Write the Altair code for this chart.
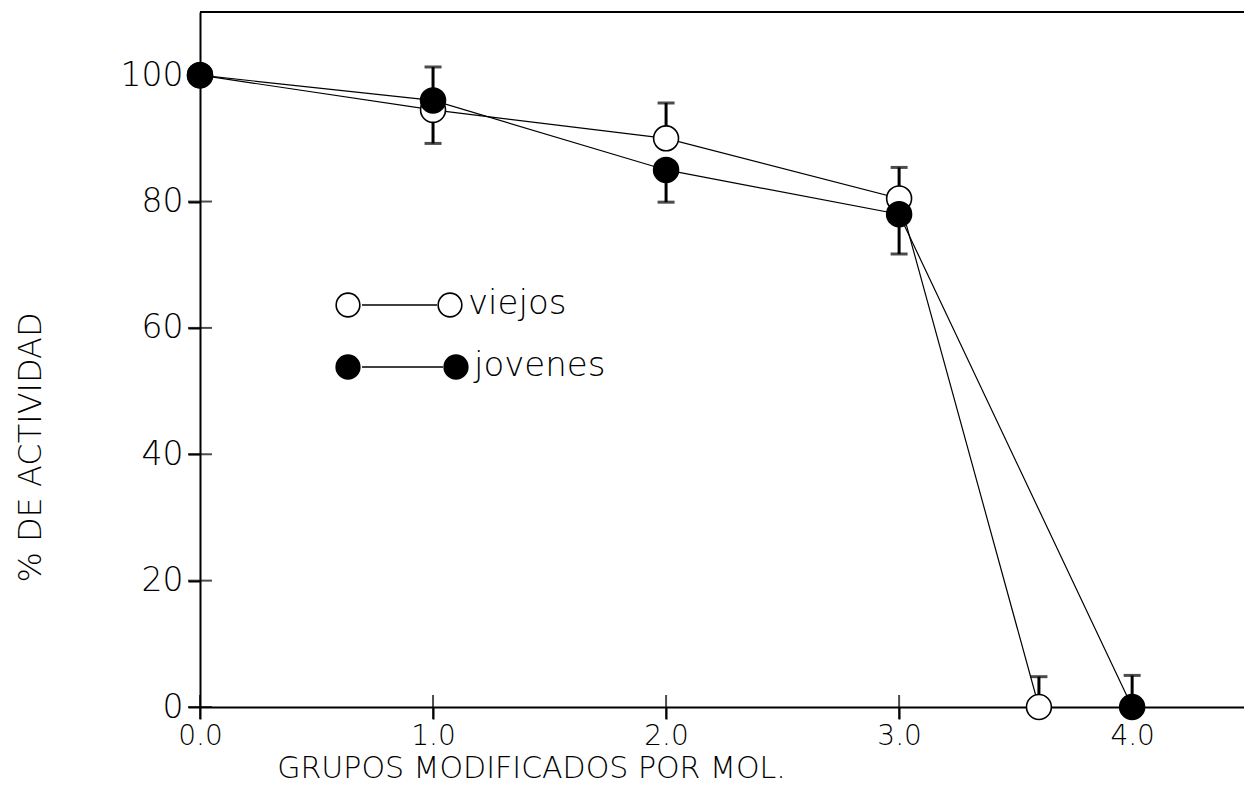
import altair as alt
import pandas as pd

# ---- data ----
series_names = ["viejos", "jovenes"]
x_viejos = [0.0, 1.0, 2.0, 3.0, 3.6]
y_viejos = [100, 94.5, 90, 80.5, 0]
x_jovenes = [0.0, 1.0, 2.0, 3.0, 4.0]
y_jovenes = [100, 96, 85, 78, 0]

# error bars: from the point value to the capped end
err_x = [1.0, 1.0, 2.0, 2.0, 3.0, 3.0, 3.6, 4.0]
err_from = [96, 94.5, 90, 85, 80.5, 78, 0, 0]
err_to = [101.3, 89.2, 95.6, 79.9, 85.4, 71.7, 4.8, 5.0]

x_ticks = [0, 1, 2, 3, 4]
y_ticks = [0, 20, 40, 60, 80, 100]

W, H = 1044, 695
FONT = "DejaVu Sans"

pts = pd.DataFrame({
    "serie": ["viejos"] * len(x_viejos) + ["jovenes"] * len(x_jovenes),
    "x": x_viejos + x_jovenes,
    "y": y_viejos + y_jovenes,
})
err = pd.DataFrame({"x": err_x, "y0": err_from, "y1": err_to})
xt = pd.DataFrame({"v": x_ticks})
yt = pd.DataFrame({"v": y_ticks})

xscale = alt.Scale(domain=[0, 4.48], nice=False, zero=False)
yscale = alt.Scale(domain=[0, 110], nice=False)

xaxis = alt.Axis(values=x_ticks, format=".1f", labelFont=FONT, labelFontSize=28,
                 labelFontWeight=300, labelColor="black", labelPadding=3,
                 tickSize=12, tickWidth=2, tickColor="black", domainColor="black",
                 domainWidth=2, grid=False, title="GRUPOS MODIFICADOS POR MOL.",
                 titleFont=FONT, titleFontSize=30, titleFontWeight=300,
                 titleColor="black", titleX=331, titleY=70, titleAlign="center",
                 titleBaseline="alphabetic", labelFlush=False)
yaxis = alt.Axis(values=y_ticks, format="d", labelFont=FONT, labelFontSize=33,
                 labelFontWeight=300, labelColor="black", labelPadding=5,
                 tickSize=12, tickWidth=2, tickColor="black", domainColor="black",
                 domainWidth=2, grid=False, title="% DE ACTIVIDAD",
                 titleFont=FONT, titleFontSize=32, titleFontWeight=300,
                 titleColor="black", titleX=-170, titleY=435, titleAngle=270,
                 titleAlign="center", titleBaseline="middle", labelFlush=False)

base_x = alt.X("x:Q", scale=xscale, axis=xaxis)
base_y = alt.Y("y:Q", scale=yscale, axis=yaxis)

lines = alt.Chart(pts).mark_line(color="black", strokeWidth=1.2).encode(
    x=base_x, y=base_y, detail="serie:N", order="x:Q")

err_rules = alt.Chart(err).mark_rule(color="black", strokeWidth=3).encode(
    x=alt.X("x:Q", scale=xscale), y=alt.Y("y0:Q", scale=yscale), y2="y1:Q")
err_caps = alt.Chart(err).mark_tick(color="black", orient="horizontal",
                                    size=17, thickness=3).encode(
    x=alt.X("x:Q", scale=xscale), y=alt.Y("y1:Q", scale=yscale))

points = alt.Chart(pts).mark_point(shape="circle", filled=True, size=620,
                                   stroke="black", strokeWidth=1.6,
                                   opacity=1).encode(
    x=alt.X("x:Q", scale=xscale), y=alt.Y("y:Q", scale=yscale),
    fill=alt.Fill("serie:N", scale=alt.Scale(domain=series_names,
                                               range=["white", "black"]),
                  legend=None))

ytick_marks = alt.Chart(yt).mark_tick(color="black", orient="horizontal",
                                      size=24, thickness=2).encode(
    x=alt.datum(0.0), y=alt.Y("v:Q", scale=yscale))
xtick_marks = alt.Chart(xt).mark_tick(color="black", orient="vertical",
                                      size=24, thickness=2).encode(
    x=alt.X("v:Q", scale=xscale), y=alt.datum(0.0))

top_border = alt.Chart(xt).mark_rule(color="black", strokeWidth=2).encode(
    x=alt.value(0), x2=alt.value(W), y=alt.value(0))

# legend drawn inside the plot
def legend_row(name, fill, cy, cx1, cx2, lx1, lx2, tx):
    d = pd.DataFrame({"label": [name]})
    seg = alt.Chart(d).mark_rule(color="black", strokeWidth=1.5).encode(
        x=alt.value(lx1), x2=alt.value(lx2), y=alt.value(cy))
    c1 = alt.Chart(d).mark_point(shape="circle", filled=True, size=560,
                                 fill=fill, stroke="black", strokeWidth=1.6,
                                 opacity=1).encode(
        x=alt.value(cx1), y=alt.value(cy))
    c2 = alt.Chart(d).mark_point(shape="circle", filled=True, size=560,
                                 fill=fill, stroke="black", strokeWidth=1.6,
                                 opacity=1).encode(
        x=alt.value(cx2), y=alt.value(cy))
    t = alt.Chart(d).mark_text(font=FONT, fontSize=34, fontWeight=300,
                               align="left", baseline="middle",
                               color="black").encode(
        x=alt.value(tx), y=alt.value(cy - 1), text="label:N")
    return seg + c1 + c2 + t

leg1 = legend_row("viejos", "white", 293, 148, 250, 162, 237, 268)
leg2 = legend_row("jovenes", "black", 355, 148, 256, 162, 243, 274)

chart = alt.layer(
    lines, err_rules, err_caps, points, ytick_marks, xtick_marks, top_border,
    leg1, leg2
).properties(
    width=W, height=H,
    autosize=alt.AutoSizeParams(type="none"),
    padding={"left": 200, "top": 12, "right": 0, "bottom": 78},
    background="white",
).configure_view(stroke=None)

chart.save("out.html", embed_options={"renderer": "svg", "actions": False})
